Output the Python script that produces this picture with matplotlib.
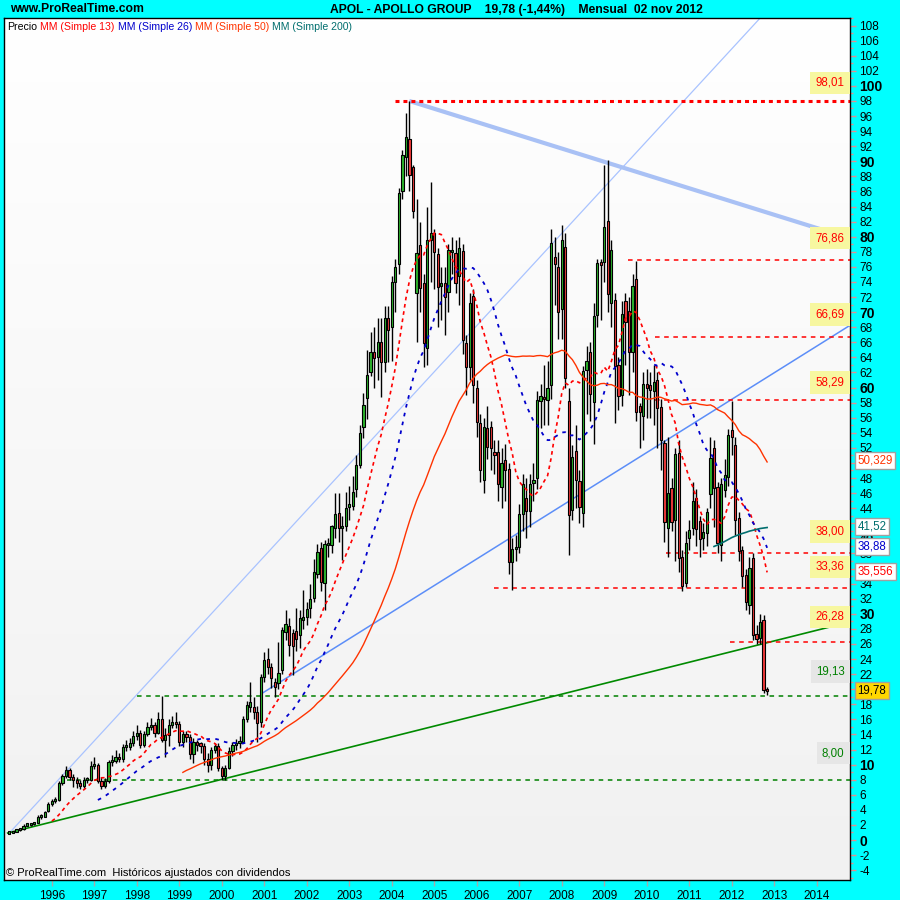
import numpy as np
import pandas as pd
import matplotlib
matplotlib.use("Agg")
import matplotlib.pyplot as plt
from matplotlib.transforms import blended_transform_factory
from matplotlib.colors import LinearSegmentedColormap

plt.rcParams['font.family'] = ['Liberation Sans', 'DejaVu Sans']

# ---------------- data (monthly bars, first bar = Jan 1995) ----------------
first_year = 1995

opens = [
    0.85, 0.95, 1.1, 1.3, 1.4, 1.9, 2.0, 2.1, 2.3, 3.0, 3.1, 3.8,            # 1995
    4.8, 5.2, 5.3, 7.6, 8.5, 9.3, 8.4, 8.0, 7.6, 7.2, 7.9, 8.0,              # 1996
    9.8, 10.0, 7.8, 7.2, 7.8, 10.3, 10.5, 11.0, 10.7, 12.3, 12.4, 12.8,      # 1997
    13.8, 14.2, 12.6, 14.0, 15.0, 15.3, 14.2, 16.0, 13.3, 13.9, 15.2, 15.6,  # 1998
    15.4, 13.0, 14.0, 13.7, 11.4, 13.0, 12.6, 12.5, 10.8, 10.0, 12.0, 12.5,  # 1999
    9.5, 8.5, 9.6, 11.8, 12.6, 12.8, 13.0, 16.0, 17.6, 17.6, 17.0, 15.6,     # 2000
    21.6, 24.0, 23.0, 21.0, 20.8, 22.5, 27.6, 28.4, 27.5, 27.7, 27.2, 29.2,  # 2001
    29.6, 30.8, 32.1, 35.3, 38.7, 34.1, 39.1, 39.1, 41.4, 43.4, 41.4, 41.6,  # 2002
    44.2, 44.3, 46.5, 49.7, 54.8, 58.6, 62.0, 64.7, 64.0, 66.0, 63.4, 69.2,  # 2003
    68.0, 74.0, 76.4, 86.0, 90.6, 93.0, 89.3, 72.5, 78.9, 73.9, 65.3, 79.6,  # 2004
    80.5, 77.7, 73.5, 73.9, 72.7, 78.0, 77.9, 74.8, 78.1, 65.9, 62.7, 72.1,  # 2005
    59.9, 55.3, 47.7, 54.6, 54.8, 51.5, 51.5, 46.8, 50.4, 49.2, 36.9, 38.6,  # 2006
    38.9, 43.2, 45.4, 43.6, 47.3, 48.0, 58.2, 58.8, 58.4, 60.3, 77.3, 76.0,  # 2007
    70.4, 78.6, 58.2, 43.8, 51.6, 47.6, 43.4, 62.3, 64.7, 58.1, 69.6, 76.5,  # 2008
    76.7, 82.1, 71.2, 71.6, 63.0, 59.0, 71.5, 70.2, 64.7, 74.4, 57.6, 56.2,  # 2009
    60.5, 60.3, 59.5, 61.0, 57.4, 52.6, 41.4, 46.7, 42.4, 51.3, 37.5, 34.1,  # 2010
    40.0, 41.4, 45.4, 42.3, 40.0, 40.7, 45.9, 52.0, 46.8, 39.1, 46.4, 48.1,  # 2011
    54.4, 52.4, 42.7, 38.5, 35.1, 31.2, 37.4, 27.3, 26.8, 29.2, 20.07,       # 2012
]
highs = [
    1.0, 1.15, 1.35, 1.5, 2.1, 2.2, 2.2, 2.4, 3.3, 3.4, 3.9, 5.0,
    5.5, 5.7, 7.8, 8.8, 9.8, 9.6, 8.7, 8.3, 8.0, 8.3, 8.4, 10.5,
    11.0, 10.2, 8.4, 8.2, 10.6, 11.3, 11.9, 11.5, 12.7, 13.2, 13.5, 14.5,
    15.2, 14.6, 14.4, 15.6, 16.2, 15.6, 17.0, 19.1, 14.8, 16.0, 16.5, 17.0,
    15.8, 14.5, 14.5, 14.0, 13.5, 13.3, 13.0, 12.8, 11.5, 12.4, 12.9, 12.8,
    9.8, 10.0, 12.3, 13.0, 13.4, 13.8, 16.5, 18.5, 21.0, 19.0, 17.8, 22.0,
    24.9, 25.5, 23.5, 21.5, 26.3, 28.2, 30.5, 29.5, 28.0, 30.8, 30.5, 33.2,
    31.5, 34.0, 37.3, 39.3, 39.5, 39.8, 40.0, 41.8, 46.0, 46.0, 43.0, 46.2,
    47.0, 48.3, 51.0, 55.0, 59.3, 65.0, 67.3, 68.0, 69.2, 69.2, 70.8, 70.8,
    74.8, 77.0, 86.5, 91.5, 96.4, 98.0, 89.5, 85.0, 82.0, 75.0, 84.0, 87.3,
    81.0, 78.5, 76.0, 76.0, 79.0, 80.0, 79.5, 80.0, 79.0, 67.0, 72.5, 73.0,
    61.0, 56.5, 56.0, 57.5, 55.5, 53.0, 53.0, 52.0, 52.5, 50.0, 40.0, 40.5,
    44.5, 48.5, 48.0, 48.5, 50.0, 59.5, 60.5, 63.0, 63.5, 81.0, 80.0, 78.0,
    81.6, 80.5, 60.0, 52.4, 55.0, 49.0, 62.8, 65.5, 66.0, 71.2, 77.0, 77.0,
    89.5, 90.2, 79.5, 72.5, 64.0, 71.5, 72.5, 72.0, 75.0, 76.8, 58.0, 62.0,
    62.5, 62.0, 63.0, 62.0, 58.5, 53.0, 53.4, 48.0, 52.0, 53.0, 38.5, 41.0,
    42.5, 47.5, 46.5, 43.0, 42.0, 44.0, 53.5, 53.0, 47.5, 48.0, 50.5, 54.5,
    58.2, 53.5, 43.5, 39.0, 36.0, 37.5, 38.0, 28.5, 30.0, 29.8, 20.3,
]
lows = [
    0.8, 0.9, 1.05, 1.2, 1.35, 1.8, 1.9, 2.0, 2.2, 2.8, 3.0, 3.7,
    4.5, 4.9, 5.2, 7.3, 8.2, 8.0, 7.0, 6.9, 6.8, 6.9, 7.5, 7.8,
    9.4, 7.5, 6.8, 6.9, 7.6, 9.8, 10.2, 10.3, 10.4, 11.8, 12.0, 12.5,
    13.3, 12.2, 12.3, 13.8, 14.6, 13.6, 14.0, 13.0, 11.0, 12.5, 14.8, 14.8,
    12.5, 12.4, 13.0, 10.8, 10.2, 11.8, 11.5, 10.0, 9.0, 9.3, 11.5, 9.2,
    7.9, 8.0, 9.4, 11.2, 12.0, 12.2, 12.8, 15.6, 17.0, 16.0, 13.0, 15.0,
    21.0, 22.0, 20.2, 19.0, 20.0, 22.0, 26.5, 24.4, 21.9, 25.0, 25.5, 28.0,
    28.5, 29.5, 31.5, 34.8, 33.0, 30.5, 37.5, 38.0, 40.0, 39.5, 37.1, 41.0,
    42.5, 43.8, 45.5, 49.3, 53.3, 55.8, 61.5, 60.0, 61.0, 58.8, 62.0, 63.4,
    63.5, 70.0, 75.0, 85.0, 88.0, 86.0, 82.5, 66.0, 70.0, 62.7, 63.0, 74.0,
    73.0, 68.0, 69.0, 67.0, 70.0, 75.0, 72.5, 71.0, 64.5, 59.0, 61.0, 58.0,
    53.5, 47.5, 46.0, 50.5, 49.0, 48.5, 45.0, 44.0, 45.0, 35.3, 33.2, 37.0,
    38.0, 41.0, 40.0, 41.5, 45.0, 46.5, 54.6, 55.0, 55.0, 58.5, 71.0, 66.5,
    66.5, 60.0, 37.8, 42.5, 44.0, 42.0, 41.5, 56.5, 55.5, 52.5, 68.0, 69.0,
    74.0, 70.0, 68.0, 55.3, 57.0, 57.5, 63.0, 59.0, 62.0, 55.5, 52.0, 53.0,
    56.0, 56.0, 55.0, 52.0, 49.0, 39.5, 37.5, 41.0, 37.0, 35.5, 33.0, 33.5,
    38.5, 40.5, 39.0, 37.5, 38.5, 39.0, 44.0, 41.5, 38.0, 37.0, 45.5, 47.0,
    51.0, 40.5, 37.0, 33.5, 30.5, 30.0, 26.5, 26.0, 26.0, 19.5, 19.2,
]
closes = [
    0.95, 1.1, 1.3, 1.4, 1.9, 2.0, 2.1, 2.2, 3.0, 3.1, 3.7, 4.8,
    5.2, 5.3, 7.6, 8.5, 9.3, 8.4, 8.0, 7.6, 7.2, 7.9, 8.0, 9.8,
    10.0, 7.8, 7.2, 7.8, 10.3, 10.5, 11.0, 10.7, 12.3, 12.4, 12.8, 13.8,
    14.2, 12.6, 14.0, 15.0, 15.3, 14.2, 16.0, 13.3, 13.9, 15.2, 15.6, 15.4,
    13.0, 14.0, 13.7, 11.4, 13.0, 12.6, 12.5, 10.8, 10.0, 12.0, 12.5, 9.5,
    8.5, 9.6, 11.8, 12.6, 12.8, 13.0, 16.0, 17.9, 18.3, 17.0, 15.5, 21.6,
    23.9, 23.0, 21.5, 20.3, 22.1, 27.9, 28.6, 25.9, 25.7, 26.7, 29.4, 29.6,
    30.6, 32.0, 35.5, 38.2, 34.2, 39.3, 39.2, 41.6, 43.2, 41.4, 41.5, 44.0,
    44.3, 46.2, 49.7, 54.0, 57.7, 61.7, 64.7, 63.9, 66.0, 63.4, 69.2, 67.6,
    74.0, 76.0, 85.8, 90.8, 93.2, 88.2, 83.4, 77.8, 73.2, 65.9, 79.6, 80.5,
    78.0, 73.3, 73.9, 72.0, 78.2, 78.2, 73.9, 78.5, 66.3, 62.7, 71.2, 60.3,
    55.4, 49.0, 54.8, 52.1, 52.0, 51.0, 47.2, 50.0, 49.0, 36.9, 38.6, 38.9,
    43.2, 47.2, 43.6, 47.2, 47.7, 58.4, 58.9, 58.5, 60.0, 79.2, 76.4, 70.0,
    79.6, 61.3, 43.1, 50.8, 47.7, 44.2, 62.2, 63.5, 59.2, 69.5, 76.5, 76.3,
    81.3, 72.4, 78.2, 62.9, 58.9, 69.8, 68.7, 64.7, 73.5, 56.8, 56.8, 60.5,
    60.0, 59.7, 60.8, 57.3, 53.0, 42.2, 46.0, 42.2, 51.2, 37.4, 33.7, 39.4,
    41.1, 45.0, 41.2, 39.9, 40.8, 43.5, 50.7, 46.7, 39.4, 47.2, 48.4, 53.7,
    53.4, 42.4, 38.3, 35.0, 31.6, 36.1, 27.2, 26.7, 28.9, 19.9, 19.78,
]

ma_periods = [13, 26, 50, 200]
ma_last_labels = ["35,556", "38,88", "50,329", "41,52"]
ma_last_values = [35.556, 38.88, 50.329, 41.52]

# horizontal levels (value, start date as decimal year)
level_values = [98.01, 76.86, 66.69, 58.29, 38.00, 33.36, 26.28, 19.13, 8.00]
level_labels = ["98,01", "76,86", "66,69", "58,29", "38,00", "33,36", "26,28", "19,13", "8,00"]
level_start = [2004.08, 2009.57, 2010.2, 2010.2, 2010.46, 2006.41, 2011.97, 1998.0, 1996.35]

# trend lines: (date0, price0, date1, price1)
trend_thin_blue = (1995.00, 0.93, 2012.67, 109.0)
trend_thick_blue = (2004.41, 98.0, 2014.77, 79.8)
trend_mid_blue = (2000.96, 19.5, 2014.77, 68.2)
trend_green = (1994.96, 0.93, 2014.77, 28.9)

last_price_label = "19,78"
last_price = 19.78
years = list(range(1996, 2015))

# ---------------- styling ----------------
CYAN = '#00FFFF'
GREEN_C = '#2DB52D'
RED_C = '#F03A3A'
MA_COLORS = ['#FF0000', '#0000CC', '#FF3300', '#006E6E']

W, H = 900, 900
L, R, T, B = 3.5, 849.5, 18, 880
xmin, xmax = 1994.862, 2014.772
ymin, ymax = -5.3, 109.0

fig = plt.figure(figsize=(9, 9), dpi=100, facecolor=CYAN)
pos = [L / W, 1 - B / H, (R - L) / W, (B - T) / H]

bg = fig.add_axes(pos, zorder=0)
cmap = LinearSegmentedColormap.from_list('g', ['#F1F1F1', '#FFFFFF'])
bg.imshow(np.linspace(0, 1, 256).reshape(-1, 1), cmap=cmap, aspect='auto',
          extent=[0, 1, 0, 1], origin='lower')
bg.set_xlim(0, 1); bg.set_ylim(0, 1); bg.axis('off')

ax = fig.add_axes(pos, zorder=1)
ax.set_facecolor('none')
ax.set_xlim(xmin, xmax)
ax.set_ylim(ymin, ymax)

n = len(closes)
t = first_year + np.arange(n) / 12.0
o = np.array(opens); h = np.array(highs); l = np.array(lows); c = np.array(closes)

# trend lines
def tl(p, **kw):
    ax.plot([p[0], p[2]], [p[1], p[3]], **kw)

tl(trend_thin_blue, color='#A9C3FF', lw=0.9, zorder=2)
tl(trend_thick_blue, color='#A9C1F5', lw=3.0, zorder=2, solid_capstyle='butt')
tl(trend_mid_blue, color='#5C8EF8', lw=1.1, zorder=2)
tl(trend_green, color='#008A00', lw=1.2, zorder=2)

# horizontal levels
for i, (v, s) in enumerate(zip(level_values, level_start)):
    col = '#FF0000' if v > 20 else '#008000'
    if i == 0:
        ax.plot([s, xmax], [v, v], color=col, lw=2.2, ls=(0, (1.3, 1.3)), zorder=2)
    else:
        ax.plot([s, xmax], [v, v], color=col, lw=1.1, ls=(0, (3, 3)), zorder=2)

# candles
up = c >= o
ax.vlines(t, np.minimum(l, np.minimum(o, c)), np.maximum(h, np.maximum(o, c)),
          color='black', lw=1.0, zorder=3)
body_bottom = np.minimum(o, c)
body_h = np.maximum(np.abs(c - o), 0.3)
ax.bar(t, body_h, bottom=body_bottom, width=0.62 / 12,
       color=np.where(up, GREEN_C, RED_C), edgecolor='black', linewidth=0.8, zorder=4)

# moving averages
s = pd.Series(c)
ma_styles = [dict(ls=(0, (2.2, 2.2)), lw=1.2), dict(ls=(0, (2.0, 3.0)), lw=1.3),
             dict(ls='-', lw=1.0), dict(ls='-', lw=1.2)]
for p, col, st in zip(ma_periods, MA_COLORS, ma_styles):
    ax.plot(t, s.rolling(p).mean().values, color=col, zorder=5, **st)

# axes styling
for sp in ax.spines.values():
    sp.set_color('black'); sp.set_linewidth(1.0)
ax.yaxis.tick_right()
yt = np.arange(-4, 109, 2)
ax.set_yticks(yt)
ax.set_yticklabels([str(int(v)) for v in yt])
ax.set_yticks(np.arange(-5, 110, 1), minor=True)
ax.tick_params(axis='y', which='major', length=4, color='#E09090', width=1,
               labelsize=8.5, pad=3, labelcolor='black')
ax.tick_params(axis='y', which='minor', length=2.5, color='#E09090', width=1)
for lab, v in zip(ax.get_yticklabels(), yt):
    if v % 10 == 0:
        lab.set_fontweight('bold')
        lab.set_fontsize(10)
ax.set_xticks(years)
ax.set_xticklabels([str(y) for y in years])
ax.tick_params(axis='x', which='major', length=4, color='#A8A8A8', width=1,
               labelsize=8.5, pad=3)

# header texts
fig.text(10 / W, 1 - 9.5 / H, 'www.ProRealTime.com', fontsize=8.7, fontweight='bold',
         ha='left', va='center')
fig.text(516 / W, 1 - 9.5 / H,
         'APOL - APOLLO GROUP    19,78 (-1,44%)    Mensual  02 nov 2012',
         fontsize=8.7, fontweight='bold', ha='center', va='center')

# legend line
parts = [('Precio', 'black'), ('MM (Simple 13)', '#FF0000'), ('MM (Simple 26)', '#0000CC'),
         ('MM (Simple 50)', '#FF3300'), ('MM (Simple 200)', '#006E6E')]
lfs = 7.6
txt = ax.text(4 / (R - L), 1 - 9 / (B - T), parts[0][0], transform=ax.transAxes,
              fontsize=lfs, color=parts[0][1], va='center', ha='left', zorder=10)
for p_txt, p_col in parts[1:]:
    txt = ax.annotate(p_txt, xy=(1, 0), xycoords=txt, xytext=(3, 0),
                      textcoords='offset pixels', va='bottom', ha='left',
                      fontsize=lfs, color=p_col, zorder=10)

ax.text(3 / (R - L), 2 / (B - T),
        '\u00a9 ProRealTime.com  Hist\u00f3ricos ajustados con dividendos',
        transform=ax.transAxes, fontsize=8.0, va='bottom', ha='left', zorder=10)

# level labels (inside plot, right edge)
trans = blended_transform_factory(ax.transAxes, ax.transData)
label_offsets = [2.4, 2.95, 3.0, 2.4, 2.9, 2.85, 3.3, 3.2, 3.5]
for v, lab, off in zip(level_values, level_labels, label_offsets):
    if v > 20:
        fc, tc = '#F7F7A0', '#FF0000'
    else:
        fc, tc = '#E6E6E6', '#008000'
    ax.text(1 - 5 / (R - L), v + off, lab, transform=trans, fontsize=8.3, color=tc,
            ha='right', va='center', zorder=9,
            bbox=dict(boxstyle='square,pad=0.45', fc=fc, ec='none'))

# moving-average value labels right of axis
for v, lab, col in zip(ma_last_values, ma_last_labels, MA_COLORS):
    ax.text(1 + 8 / (R - L), v, lab, transform=trans, fontsize=8.3, color=col,
            ha='left', va='center', zorder=11, clip_on=False,
            bbox=dict(boxstyle='square,pad=0.22', fc='white', ec='#A0A0A0', lw=1))
ax.text(1 + 8 / (R - L), last_price, last_price_label, transform=trans, fontsize=8.3,
        color='black', ha='left', va='center', zorder=11, clip_on=False,
        bbox=dict(boxstyle='square,pad=0.22', fc='#FFD700', ec='#A0A0A0', lw=1))

fig.savefig('out.png', dpi=100, facecolor=CYAN)
